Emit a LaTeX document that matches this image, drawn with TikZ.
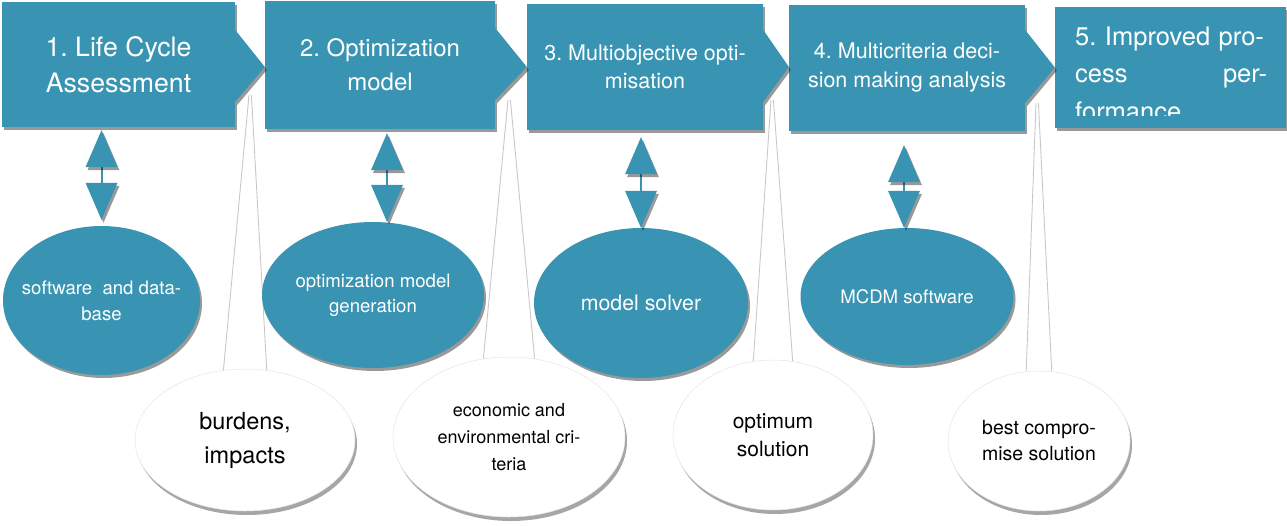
\documentclass[tikz,border=0pt]{standalone}
\usepackage{fontspec}
\setmainfont{TeX Gyre Heros}
\usetikzlibrary{shapes.geometric,shadows,calc}
\definecolor{tb}{RGB}{56,148,178}
\definecolor{wedgegray}{RGB}{200,200,200}
\pgfdeclarelayer{back}
\pgfsetlayers{back,main}
\frenchspacing
\tikzset{
  softshadow/.style={drop shadow={shadow xshift=2pt,shadow yshift=-3pt,fill=black,opacity=0.4}},
  box/.style={rectangle,fill=tb,text=white,align=center,inner sep=0pt,softshadow},
  bell/.style={ellipse,fill=tb,inner sep=0pt,softshadow},
  wcall/.style={ellipse,fill=white,draw=black!10,line width=0.5pt,inner sep=0pt,
    drop shadow={shadow xshift=2pt,shadow yshift=-4pt,fill=black,opacity=0.35}},
  wtext/.style={text=white,align=center,inner sep=0pt},
  ktext/.style={text=black,align=center,inner sep=0pt},
  tri/.style={fill=tb,softshadow},
  wedgeline/.style={draw=wedgegray,line width=0.9pt},
}
\begin{document}
\begin{tikzpicture}[x=1pt,y=-1pt]
\useasboundingbox (0,0) rectangle (1287,525);
% main boxes
\node[box,minimum width=233pt,minimum height=125pt,font=\fontsize{26.7}{36}\selectfont] (b1) at (118.5,64.5) {1. Life Cycle\\Assessment};
\node[box,minimum width=230pt,minimum height=128pt,font=\fontsize{24}{34}\selectfont] (b2) at (380,65) {2. Optimization\\model};
\node[box,minimum width=236pt,minimum height=126pt,font=\fontsize{21.5}{28}\selectfont] (b3) at (645,67) {3. Multiobjective opti-\\misation};
\node[box,minimum width=236pt,minimum height=126pt,font=\fontsize{21.5}{29}\selectfont] (b4) at (907,68) {4. Multicriteria deci-\\sion making analysis};
\node[box,minimum width=231pt,minimum height=121pt] (b5) at (1170.5,67.5) {};
\begin{scope}
  \clip (b5.north west) rectangle ($(b5.south east)+(0,-13)$);
  \node[wtext,align=left,anchor=north west,text width=192pt,font=\fontsize{25.5}{37.5}\selectfont] (t5) at (1075,26.7) {5. Improved pro-\\cess\hfill per-\\formance};
\end{scope}
% arrows between boxes
\fill[tri] ($(b1.east)+(0,-34.5)$) -- ($(b1.east)+(0,37.5)$) -- ($(b2.west)+(0,2)$) -- cycle;
\fill[tri] ($(b2.east)+(0,-37)$) -- ($(b2.east)+(0,35)$) -- (b3.west) -- cycle;
\fill[tri] ($(b3.east)+(0,-37)$) -- ($(b3.east)+(0,35)$) -- ($(b4.west)+(0,-1)$) -- cycle;
\fill[tri] ($(b4.east)+(0,-38)$) -- ($(b4.east)+(0,35)$) -- (b5.west) -- cycle;
% blue ellipses
\node[bell,minimum width=197pt,minimum height=149pt] (e1) at (101.5,300.5) {};
\node[bell,minimum width=222pt,minimum height=146pt] (e2) at (373,295) {};
\node[bell,minimum width=214pt,minimum height=150pt] (e3) at (641,303) {};
\node[bell,minimum width=213pt,minimum height=137pt] (e4) at (907,296.5) {};
\node[wtext,font=\fontsize{18.6}{26}\selectfont] (e1t) at (e1.center) {software\ \ and data-\\base};
\node[wtext,font=\fontsize{18.6}{25}\selectfont] (e2t) at (e2.center) {optimization model\\generation};
\node[wtext,font=\fontsize{21.3}{26}\selectfont] (e3t) at (e3.center) {model solver};
\node[wtext,font=\fontsize{18.6}{25}\selectfont] (e4t) at (e4.center) {MCDM software};
% white callout ellipses
\node[wcall,minimum width=220pt,minimum height=142pt] (c1) at (245,440) {};
\node[wcall,minimum width=232pt,minimum height=160pt] (c2) at (509,437) {};
\node[wcall,minimum width=200pt,minimum height=150pt] (c3) at (773,435) {};
\node[wcall,minimum width=182pt,minimum height=140pt] (c4) at (1039,441) {};
\node[ktext,font=\fontsize{23.5}{34}\selectfont] (c1t) at (c1.center) {burdens,\\impacts};
\node[ktext,font=\fontsize{18}{27}\selectfont] (c2t) at (c2.center) {economic and\\environmental cri-\\teria};
\node[ktext,font=\fontsize{21}{28}\selectfont] (c3t) at (c3.center) {optimum\\solution};
\node[ktext,font=\fontsize{19.5}{26}\selectfont] (c4t) at (c4.center) {best compro-\\mise solution};
% wedges from arrows to callouts
\coordinate (a1) at ($(b1.east)+(15,30.5)$);
\coordinate (a2) at ($(b2.east)+(14,35)$);
\coordinate (a3) at ($(b3.east)+(9,33)$);
\coordinate (a4) at ($(b4.east)+(12,35)$);
\begin{pgfonlayer}{back}
  \foreach \a/\c/\w in {a1/c1/22,a2/c2/26,a3/c3/20,a4/c4/13}{
    \draw[wedgeline] ($(\a)+(-1.2,0)$) -- ($(\c.north)+(-\w,6)$);
    \draw[wedgeline] ($(\a)+(1.2,0)$) -- ($(\c.north)+(\w,6)$);
  }
\end{pgfonlayer}
% double arrows between boxes and blue ellipses
\foreach \b/\e/\g/\h/\dx in {b1/e1/3/6/0,b2/e2/4/0/14,b3/e3/7/0/0,b4/e4/14/0/-3}{
  \coordinate (\b s) at (\e.north |- \b.south);
  \coordinate (\b t) at ($(\b s)+(\dx,\g)$);
  \coordinate (\b d) at ($(\e.north)+(\dx,-\h)$);
  \draw[tb,line width=2pt] ($(\b t)+(0,36)$) -- ($(\b d)+(0,-36)$);
  \fill[tri] (\b t) -- ++(-16,37) -- ++(32,0) -- cycle;
  \fill[tri] (\b d) -- ++(-16,-37) -- ++(32,0) -- cycle;
}
\end{tikzpicture}
\end{document}
